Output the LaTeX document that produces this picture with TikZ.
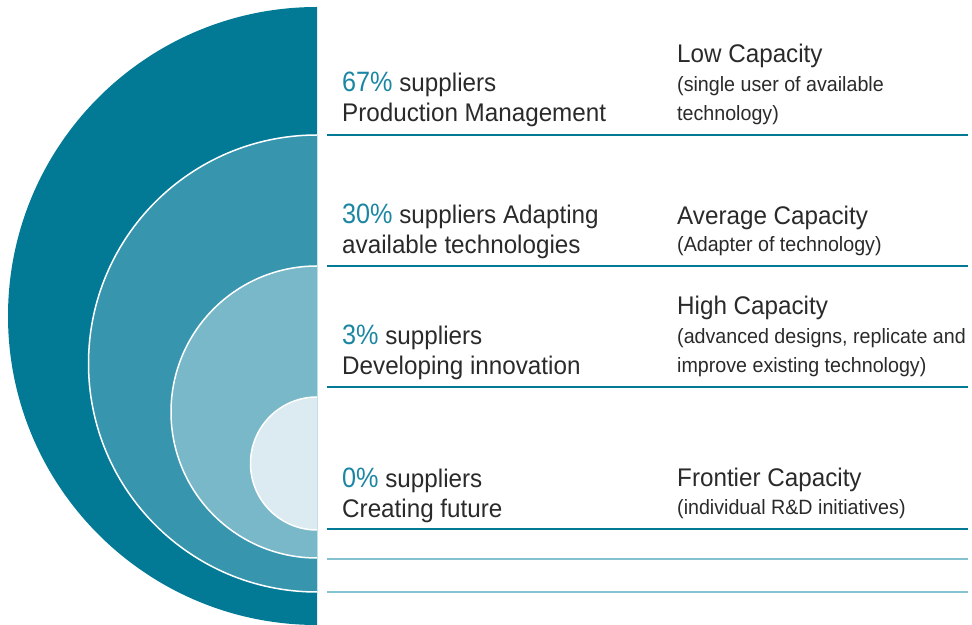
\documentclass[tikz,border=0pt]{standalone}
\usepackage{fontspec}
\setmainfont{Liberation Sans}[FakeStretch=0.95]
\newfontfamily\numfont{Liberation Sans}[FakeStretch=0.9]
\usetikzlibrary{positioning}

\definecolor{tealA}{HTML}{027A96}
\definecolor{tealB}{HTML}{3796AE}
\definecolor{tealC}{HTML}{79B8C8}
\definecolor{tealE}{HTML}{DBEBF1}
\definecolor{tealN}{HTML}{1B86A3}
\definecolor{tealL}{HTML}{86C1CF}
\definecolor{ink}{HTML}{2A2A2A}

\newcommand{\pct}[1]{{\color{tealN}\numfont\fontsize{28}{30}\selectfont #1\%}}

\begin{document}
\begin{tikzpicture}[x=1pt, y=1pt,
  share/.style={anchor=base west, align=left, inner sep=0pt, text=ink, font=\fontsize{25.5}{30}\selectfont},
  level/.style={anchor=base west, inner sep=0pt, text=ink, font=\fontsize{25.5}{30}\selectfont},
  note/.style={anchor=base west, align=left, inner sep=0pt, text=ink, font=\fontsize{20.7}{29}\selectfont},
  rule/.style={draw=tealA, line width=2.2pt},
  thinrule/.style={draw=tealL, line width=1.3pt},
  ring/.style={draw=white, line width=1.5pt}]
\useasboundingbox (0,0) rectangle (972,624);

% nested half discs
\fill[tealA] (317,617) arc[start angle=90, end angle=270, radius=309] -- cycle;
\fill[tealB] (317,489) arc[start angle=90, end angle=270, radius=228.5] -- cycle;
\draw[ring] (317,489) arc[start angle=90, end angle=270, radius=228.5];
\fill[tealC] (317,358) arc[start angle=90, end angle=270, radius=146] -- cycle;
\draw[ring] (317,358) arc[start angle=90, end angle=270, radius=146];
\fill[tealE] (317,227) arc[start angle=90, end angle=270, radius=66.5] -- cycle;
\draw[ring] (317,227) arc[start angle=90, end angle=270, radius=66.5];

% separators
\foreach \y in {489,358,237,95}
  \draw[rule] (327,\y) -- (968,\y);
\foreach \y in {65,32}
  \draw[thinrule] (327,\y) -- (968,\y);

% supplier shares (placed by the baseline of their last line)
\node[share] (low) at (342,502) {\pct{67} suppliers\\Production Management};
\node[share] (avg) at (342,370) {\pct{30} suppliers Adapting\\available technologies};
\node[share] (high) at (342,249) {\pct{3} suppliers\\Developing innovation};
\node[share] (front) at (342,106) {\pct{0} suppliers\\Creating future};

% capacity levels
\node[level] (lowcap) at (677,561) {Low Capacity};
\node[note] (lownote) at (677,503) {(single user of available\\technology)};
\node[level] (avgcap) at (677,399) {Average Capacity};
\node[note] (avgnote) at (677,372) {(Adapter of technology)};
\node[level] (highcap) at (677,309) {High Capacity};
\node[note] (highnote) at (677,251) {(advanced designs, replicate and\\improve existing technology)};
\node[level] (frontcap) at (677,137) {Frontier Capacity};
\node[note] (frontnote) at (677,109) {(individual R\&D initiatives)};
\end{tikzpicture}
\end{document}
